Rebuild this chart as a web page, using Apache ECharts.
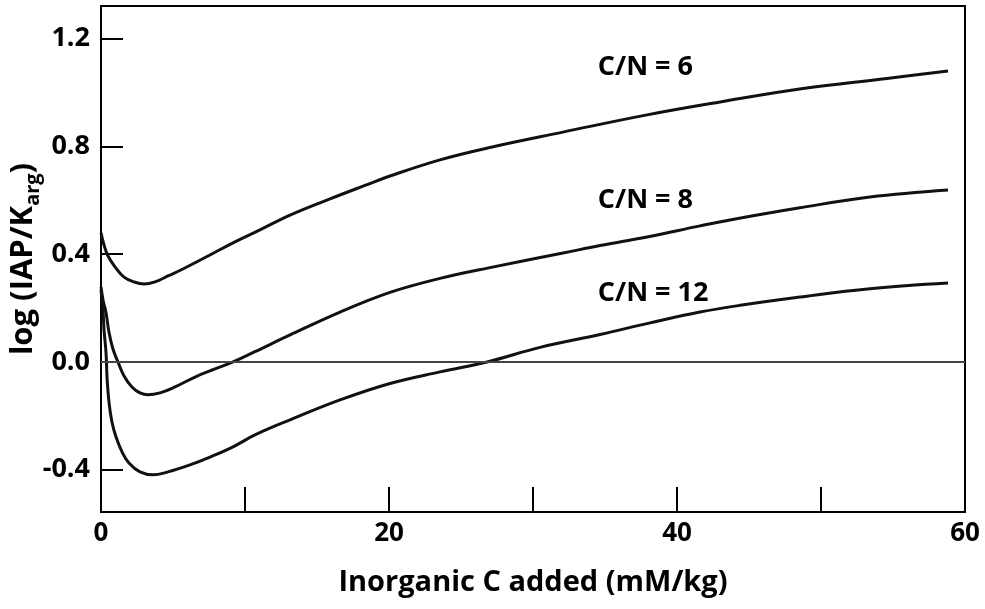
<!DOCTYPE html>
<html>
<head>
<meta charset="utf-8">
<title>log (IAP/Karg) vs inorganic C added</title>
<script src="https://cdn.jsdelivr.net/npm/echarts@6/dist/echarts.min.js"></script>
<style>
  html, body { margin: 0; padding: 0; background: #fff; }
  #chart { width: 985px; height: 609px; }
</style>
</head>
<body>
<div id="chart"></div>
<script>
// Inorganic C added (mM/kg) and log(IAP/Karg) for three C/N ratios
const cn6X = [0, 0.21, 0.49, 0.97, 1.6, 2.29, 2.99, 3.75, 4.65, 5.69, 7.43, 9.17, 11.04, 13.13, 15.9, 18.33, 20.07, 23.54, 27.01, 32.08, 37.92, 42.99, 48.75, 54.58, 58.82];
const cn6Y = [0.479, 0.434, 0.393, 0.353, 0.315, 0.297, 0.289, 0.297, 0.319, 0.345, 0.393, 0.442, 0.490, 0.545, 0.605, 0.655, 0.690, 0.750, 0.796, 0.853, 0.917, 0.965, 1.015, 1.052, 1.080];

const cn8X = [0, 0.14, 0.35, 0.56, 0.83, 1.18, 1.6, 2.15, 2.71, 3.26, 4.1, 5.14, 6.53, 7.92, 9.17, 10.69, 13.13, 16.6, 20.07, 23.54, 27.01, 32.08, 34.65, 37.92, 41.6, 43.68, 48.54, 53.4, 58.82];
const cn8Y = [0.278, 0.230, 0.182, 0.108, 0.048, 0, -0.052, -0.093, -0.115, -0.122, -0.115, -0.093, -0.056, -0.026, 0, 0.038, 0.100, 0.185, 0.258, 0.310, 0.350, 0.404, 0.432, 0.464, 0.505, 0.527, 0.572, 0.612, 0.638];

const cn12X = [0, 0.14, 0.21, 0.35, 0.42, 0.56, 0.76, 1.04, 1.46, 1.94, 2.71, 3.61, 4.65, 6.18, 7.57, 9.17, 10.69, 13.13, 16.6, 20.07, 23.54, 26.81, 30.49, 34.65, 38.13, 41.6, 44.38, 48.54, 53.4, 58.82];
const cn12Y = [0.267, 0.193, 0.119, 0.033, -0.059, -0.152, -0.223, -0.278, -0.334, -0.375, -0.408, -0.419, -0.408, -0.382, -0.353, -0.315, -0.271, -0.215, -0.141, -0.080, -0.037, 0, 0.054, 0.102, 0.145, 0.185, 0.210, 0.241, 0.272, 0.293];

// Axis ticks and labels
const xTickValues = [10, 20, 30, 40, 50];
const xLabelValues = [0, 20, 40, 60];
const yTickValues = [-0.4, 0, 0.4, 0.8, 1.2];

// Curve annotations: text and anchor (left edge) in data units
const curveLabels = ['C/N = 6', 'C/N = 8', 'C/N = 12'];
const curveLabelX = [34.5, 34.5, 34.5];
const curveLabelY = [1.093, 0.601, 0.256];

const FONT = '"Open Sans", "DejaVu Sans", sans-serif';

function pairs(xs, ys) {
  return xs.map((x, i) => [x, ys[i]]);
}

function curve(name, xs, ys, idx) {
  return {
    name: name,
    type: 'line',
    data: pairs(xs, ys),
    showSymbol: false,
    symbol: 'none',
    smooth: 0.4,
    lineStyle: { color: '#111', width: 3 },
    z: 3,
    markPoint: {
      symbol: 'circle',
      symbolSize: 0,
      silent: true,
      label: {
        show: true,
        position: 'inside',
        align: 'left',
        verticalAlign: 'middle',
        formatter: curveLabels[idx],
        color: '#000',
        fontFamily: FONT,
        fontWeight: 'bold',
        fontSize: 27
      },
      data: [{ coord: [curveLabelX[idx], curveLabelY[idx]] }]
    }
  };
}

const chart = echarts.init(document.getElementById('chart'), null, { renderer: 'canvas' });

chart.setOption({
  animation: false,
  backgroundColor: '#fff',
  grid: {
    left: 101, right: 20, top: 6, bottom: 97,
    containLabel: false,
    outerBoundsMode: 'none',
    show: true,
    borderColor: '#000',
    borderWidth: 2,
    backgroundColor: 'transparent'
  },
  xAxis: {
    type: 'value',
    min: 0,
    max: 60,
    interval: 10,
    name: 'Inorganic C added (mM/kg)',
    nameLocation: 'middle',
    nameMoveOverlap: false,
    nameGap: 56,
    nameTextStyle: { fontFamily: FONT, fontWeight: 'bold', fontSize: 29, color: '#000' },
    axisLine: { show: true, onZero: false, lineStyle: { color: '#000', width: 2 } },
    axisTick: { show: true, inside: true, length: 25, lineStyle: { color: '#000', width: 2 }, customValues: xTickValues },
    axisLabel: {
      customValues: xLabelValues,
      margin: 9,
      color: '#000',
      fontFamily: FONT,
      fontWeight: 'bold',
      fontSize: 26,
      formatter: v => String(v)
    },
    splitLine: { show: false }
  },
  yAxis: {
    type: 'value',
    min: -0.557,
    max: 1.321,
    name: '{t|log (IAP/K}{s|arg}{t|)}',
    nameLocation: 'middle',
    nameRotate: 90,
    nameMoveOverlap: false,
    nameGap: 58,
    nameTextStyle: {
      color: '#000',
      rich: {
        t: { fontFamily: FONT, fontWeight: 'bold', fontSize: 31, color: '#000', lineHeight: 40 },
        s: { fontFamily: FONT, fontWeight: 'bold', fontSize: 20, color: '#000', lineHeight: 40, verticalAlign: 'bottom', padding: [16, 0, 0, 0] }
      }
    },
    axisLine: { show: true, onZero: false, lineStyle: { color: '#000', width: 2 } },
    axisTick: { show: true, inside: true, length: 22, lineStyle: { color: '#000', width: 2 }, customValues: yTickValues },
    axisLabel: {
      customValues: yTickValues,
      margin: 11,
      color: '#000',
      fontFamily: FONT,
      fontWeight: 'bold',
      fontSize: 27,
      formatter: v => v.toFixed(1)
    },
    splitLine: { show: false }
  },
  series: [
    curve('C/N = 6', cn6X, cn6Y, 0),
    curve('C/N = 8', cn8X, cn8Y, 1),
    curve('C/N = 12', cn12X, cn12Y, 2),
    {
      // zero reference line
      type: 'line',
      data: [],
      silent: true,
      markLine: {
        silent: true,
        symbol: ['none', 'none'],
        label: { show: false },
        lineStyle: { color: '#444', width: 2, type: 'solid' },
        data: [{ yAxis: 0 }]
      }
    }
  ]
});
</script>
</body>
</html>
